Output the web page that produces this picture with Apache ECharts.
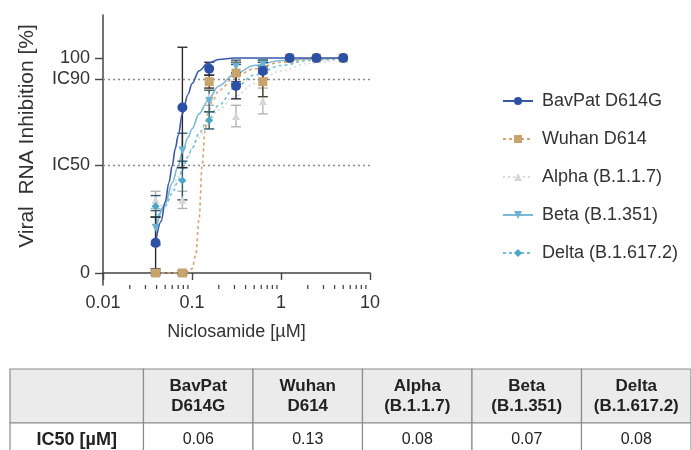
<!DOCTYPE html>
<html><head><meta charset="utf-8">
<script src="https://cdn.jsdelivr.net/npm/echarts@6/dist/echarts.min.js"></script>
<style>html,body{margin:0;padding:0;background:#fff}#c{width:691px;height:450px}</style>
</head><body><div id="c"></div>
<script>
// ---------- data ----------
const variants = ['BavPat D614G', 'Wuhan D614', 'Alpha (B.1.1.7)', 'Beta (B.1.351)', 'Delta (B.1.617.2)'];
const concentrations = [0.039, 0.078, 0.156, 0.3125, 0.625, 1.25, 2.5, 5];

const bavpatMean = [14, 77, 95, 87, 94, 100, 100, 100];
const bavpatErr  = [12, 28, 3, 6, 4, 0, 0, 0];
const wuhanMean  = [0, 0, 89, 93, 89, 100, 100, 100];
const wuhanErr   = [1, 1, 3, 5, 7, 0, 0, 0];
const alphaMean  = [34, 34, 82, 73, 80, 100, 100, 100];
const alphaErr   = [4, 4, 4, 5, 6, 0, 0, 0];
const betaMean   = [21, 57, 80, 96, 97, 100, 100, 100];
const betaErr    = [8, 8, 5, 3, 2, 0, 0, 0];
const deltaMean  = [31, 43, 71, 93, 96, 100, 100, 100];
const deltaErr   = [5, 9, 4, 4, 3, 0, 0, 0];

// fitted curves
const bavpatCurveX = [0.039, 0.045, 0.05, 0.055, 0.06, 0.065, 0.07, 0.078, 0.09, 0.1, 0.12, 0.15, 0.2, 0.3, 0.6, 1.2, 5];
const bavpatCurveY = [14, 24, 33, 42, 50, 58, 64, 74, 83, 88, 94, 97.5, 99.3, 100, 100, 100, 100];
const wuhanCurveX  = [0.039, 0.078, 0.09, 0.1, 0.11, 0.12, 0.13, 0.14, 0.15, 0.17, 0.2, 0.3, 0.5, 1, 2, 5];
const wuhanCurveY  = [0, 0, 0.5, 2, 8, 25, 50, 66, 74, 80, 85, 91, 95, 98, 99.5, 100];
const alphaCurveX  = [0.039, 0.05, 0.06, 0.07, 0.078, 0.09, 0.1, 0.12, 0.15, 0.2, 0.3, 0.5, 1, 2, 5];
const alphaCurveY  = [27, 33, 39, 45, 49, 54, 58, 63, 69, 76, 82, 88, 94, 97.5, 99.5];
const betaCurveX   = [0.039, 0.05, 0.06, 0.07, 0.078, 0.09, 0.1, 0.12, 0.15, 0.2, 0.3, 0.5, 1, 2, 5];
const betaCurveY   = [20, 32, 42, 50, 56, 63, 67, 74, 80, 87, 92.5, 96.5, 98.8, 99.6, 100];
const deltaCurveX  = [0.039, 0.05, 0.06, 0.07, 0.078, 0.09, 0.1, 0.12, 0.15, 0.2, 0.3, 0.5, 1, 2, 5];
const deltaCurveY  = [24, 31, 37, 43, 48, 54, 58, 65, 71, 78, 86, 92, 96.5, 98.8, 99.8];

const icLevels = [50, 90];
const yTickValues = [0, 50, 90, 100];
const yTickLabels = ['0', 'IC50', 'IC90', '100'];
const xTickLabels = ['0.01', '0.1', '1', '10'];
const xMinorTicks = [0.02,0.03,0.04,0.05,0.06,0.07,0.08,0.09,0.2,0.3,0.4,0.5,0.6,0.7,0.8,0.9,2,3,4,5,6,7,8,9];

const ic50Values = [0.06, 0.13, 0.08, 0.07, 0.08];
const tableRowLabel = 'IC50 [µM]';

// ---------- styling ----------
const FONT = 'Liberation Sans, Arial, sans-serif';
const YMIN = -5.6, YMAX = 120;
const styles = [
  {mark: '#2b50a6', line: '#3a58a6', err: '#2a2a35', symbol: 'circle', size: 10, type: 'solid', rot: 0},
  {mark: '#c6a46c', line: '#d9a271', err: '#4e4330', symbol: 'rect', size: 9, type: [3, 3], rot: 0},
  {mark: '#d6d6d6', line: '#d8d8d8', err: '#b4b4b4', symbol: 'triangle', size: 8, type: [2, 3], rot: 0},
  {mark: '#6db2d3', line: '#7ab9d8', err: '#35606e', symbol: 'triangle', size: 8, type: 'solid', rot: 180},
  {mark: '#49a7c3', line: '#72c0d6', err: '#2c5a68', symbol: 'diamond', size: 8, type: [3, 3], rot: 0}
];
const means = [bavpatMean, wuhanMean, alphaMean, betaMean, deltaMean];
const errs = [bavpatErr, wuhanErr, alphaErr, betaErr, deltaErr];
const curvesX = [bavpatCurveX, wuhanCurveX, alphaCurveX, betaCurveX, deltaCurveX];
const curvesY = [bavpatCurveY, wuhanCurveY, alphaCurveY, betaCurveY, deltaCurveY];

function errRender(color) {
  return function (params, api) {
    const x = api.value(0), lo = api.value(1), hi = api.value(2);
    const p1 = api.coord([x, hi]), p2 = api.coord([x, lo]);
    const w = 5, st = {stroke: color, lineWidth: 1.4};
    return {type: 'group', children: [
      {type: 'line', shape: {x1: p1[0], y1: p1[1], x2: p2[0], y2: p2[1]}, style: st},
      {type: 'line', shape: {x1: p1[0] - w, y1: p1[1], x2: p1[0] + w, y2: p1[1]}, style: st},
      {type: 'line', shape: {x1: p2[0] - w, y1: p2[1], x2: p2[0] + w, y2: p2[1]}, style: st}
    ]};
  };
}

const series = [];
const order = [2, 4, 3, 1, 0];
order.forEach(function (i) {
  const s = styles[i];
  series.push({
    name: variants[i], type: 'line', xAxisIndex: 0, yAxisIndex: 0,
    data: curvesX[i].map((x, k) => [x, curvesY[i][k]]),
    smooth: 0.35, smoothMonotone: 'x', showSymbol: false,
    symbol: s.symbol, symbolRotate: s.rot, symbolSize: s.size,
    itemStyle: {color: s.mark},
    lineStyle: {color: s.line, width: 1.6, type: s.type},
    z: i === 0 ? 10 : 3, silent: true
  });
  series.push({
    name: variants[i] + ' err', type: 'custom', xAxisIndex: 0, yAxisIndex: 0,
    renderItem: errRender(s.err),
    data: concentrations.map((x, k) => [x, means[i][k] - errs[i][k], means[i][k] + errs[i][k]]).filter((d, k) => errs[i][k] > 0),
    encode: {x: 0, y: [1, 2]}, z: 4, silent: true
  });
  series.push({
    name: variants[i] + ' pts', type: 'scatter', xAxisIndex: 0, yAxisIndex: 0,
    data: concentrations.map((x, k) => [x, means[i][k]]),
    symbol: s.symbol, symbolRotate: s.rot, symbolSize: s.size,
    itemStyle: {color: s.mark, opacity: 1}, z: i === 0 ? 12 : 5, silent: true
  });
});

series.push({
  name: 'ic', type: 'line', xAxisIndex: 0, yAxisIndex: 0, data: [], silent: true,
  markLine: {silent: true, symbol: 'none', label: {show: false},
    lineStyle: {type: [2, 3], color: '#8a8a8a', width: 1.3},
    data: icLevels.map(v => ({yAxis: v}))}
});

series.push({
  name: 'minor', type: 'custom', xAxisIndex: 0, yAxisIndex: 0, silent: true, clip: false,
  data: xMinorTicks.map(v => [v, YMIN]),
  renderItem: function (params, api) {
    const p = api.coord([api.value(0), api.value(1)]);
    return {type: 'line', shape: {x1: p[0], y1: p[1], x2: p[0], y2: p[1] + 4}, style: {stroke: '#444', lineWidth: 1.3}};
  }
});

// table
const tableVisibleFrac = 81 / 88;
const rowEdges = [0, 54 / 88, 1];
const firstColMin = -1.219;
const tableCells = [];
for (let r = 0; r < 2; r++) for (let c = -1; c < 5; c++) tableCells.push([c, r]);
series.push({
  name: 'table', type: 'custom', xAxisIndex: 1, yAxisIndex: 1, silent: true, clip: false,
  data: tableCells,
  renderItem: function (params, api) {
    const c = api.value(0), r = api.value(1);
    const x0 = api.coord([c < 0 ? firstColMin : c, 0])[0];
    const x1 = api.coord([c + 1, 0])[0];
    const y0 = api.coord([0, rowEdges[r]])[1];
    const y1 = api.coord([0, rowEdges[r + 1]])[1];
    let text = '', font = 'bold 17px ';
    if (r === 0 && c >= 0) text = variants[c].replace(' ', '\n');
    if (r === 1 && c < 0) { text = tableRowLabel; font = 'bold 18px '; }
    if (r === 1 && c >= 0) { text = ic50Values[c].toFixed(2); font = '16px '; }
    return {type: 'group', children: [
      {type: 'rect', shape: {x: x0, y: y0, width: x1 - x0, height: y1 - y0},
        style: {fill: r === 0 ? '#ebebeb' : '#ffffff', stroke: '#8c8c8c', lineWidth: 1.2}},
      {type: 'text', x: (x0 + x1) / 2, y: (y0 + y1) / 2,
        style: {text: text, align: 'center', verticalAlign: 'middle', fill: '#222',
          font: font + FONT, lineHeight: 20}}
    ]};
  }
});

const chart = echarts.init(document.getElementById('c'), null, {renderer: 'canvas'});
chart.setOption({
  animation: false,
  backgroundColor: '#fff',
  textStyle: {fontFamily: FONT},
  grid: [
    {left: 103, top: 15, width: 267, height: 270, containLabel: false},
    {left: 10, top: 369, width: 688.75, height: 81, containLabel: false}
  ],
  xAxis: [
    {type: 'log', logBase: 10, min: 0.01, max: 10, gridIndex: 0,
      name: 'Niclosamide [µM]', nameLocation: 'middle', nameGap: 38,
      nameTextStyle: {fontSize: 18, color: '#333', fontFamily: FONT},
      axisLine: {lineStyle: {color: '#444', width: 1.5}},
      axisTick: {show: true, length: 7, lineStyle: {color: '#444', width: 1.4}},
      axisLabel: {fontSize: 18, color: '#333', margin: 9, fontFamily: FONT,
        formatter: v => xTickLabels[Math.round(Math.log10(v)) + 2]},
      splitLine: {show: false}, minorTick: {show: false}},
    {type: 'value', min: firstColMin, max: 5, gridIndex: 1, show: false}
  ],
  yAxis: [
    {type: 'value', min: YMIN, max: YMAX, gridIndex: 0,
      axisLine: {show: true, lineStyle: {color: '#444', width: 1.5}},
      axisTick: {show: true, length: 8, customValues: yTickValues, lineStyle: {color: '#444', width: 1.4}},
      axisLabel: {fontSize: 18, color: '#333', margin: 13, fontFamily: FONT, customValues: yTickValues,
        formatter: v => yTickLabels[yTickValues.indexOf(Math.round(v))]},
      splitLine: {show: false}},
    {type: 'value', min: 0, max: tableVisibleFrac, inverse: true, gridIndex: 1, show: false}
  ],
  legend: {
    orient: 'vertical', left: 497, top: 87, itemWidth: 30, itemHeight: 10, itemGap: 20,
    data: variants, selectedMode: false,
    textStyle: {fontSize: 18, color: '#333', fontFamily: FONT, padding: [0, 0, 0, 4]}
  },
  graphic: [
    {type: 'text', x: 27, y: 136, rotation: Math.PI / 2,
      style: {text: 'Viral  RNA Inhibition [%]', font: '21px ' + FONT, fill: '#333', align: 'center', verticalAlign: 'middle'}}
  ],
  series: series
});
</script>
</body></html>
